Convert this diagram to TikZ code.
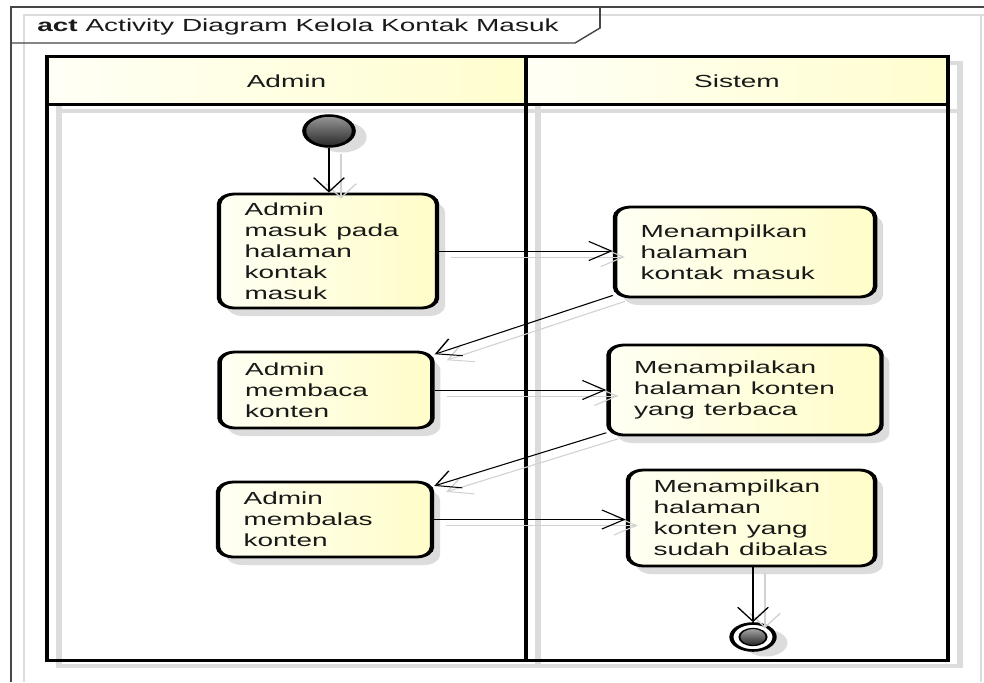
\documentclass[tikz,border=0pt]{standalone}
\usepackage{fontspec}
\setmainfont{Liberation Sans}
\usetikzlibrary{arrows.meta,shadows}

\definecolor{laneLight}{RGB}{255,255,246}
\definecolor{laneDark}{RGB}{255,254,206}
\definecolor{actLight}{RGB}{255,255,244}
\definecolor{actDark}{RGB}{255,253,200}
\definecolor{shadowGray}{RGB}{220,220,220}
\definecolor{frameGray}{RGB}{70,70,70}
\definecolor{textGray}{RGB}{25,25,25}

\tikzset{
  basefont/.style={font=\fontsize{17.5pt}{21pt}\selectfont, text=textGray},
  action/.style={basefont, draw=black, line width=2.8pt, rounded corners=10pt,
    left color=actLight, right color=actDark, align=left,
    inner xsep=16pt, inner ysep=0pt,
    general shadow={fill=shadowGray, shadow xshift=5pt, shadow yshift=-8pt}},
  startnode/.style={circle, draw=black, line width=2.5pt, minimum size=31pt,
    inner sep=0pt, top color=black!40, bottom color=black!85,
    general shadow={fill=shadowGray, shadow xshift=8pt, shadow yshift=-6pt}},
  endring/.style={circle, draw=black, line width=2.6pt, fill=white,
    minimum size=27pt, inner sep=0pt,
    general shadow={fill=shadowGray, shadow xshift=8pt, shadow yshift=-6pt}},
  endcore/.style={circle, draw=black, line width=1.2pt, minimum size=17pt,
    inner sep=0pt, top color=black!35, bottom color=black!85},
  flow/.style={draw=black, line width=1pt,
    -{Straight Barb[length=14pt,width=19pt]}},
  flowshadow/.style={draw=black!18, line width=1pt,
    -{Straight Barb[length=14pt,width=19pt]}},
  laneline/.style={draw=black, line width=3pt},
  laneshadow/.style={draw=shadowGray, line width=3.5pt},
  frameline/.style={draw=frameGray, line width=1.2pt},
  frameshadow/.style={draw=shadowGray, line width=1.2pt},
}

\begin{document}
\begin{tikzpicture}[x=1pt,y=-1pt]
\useasboundingbox (0,0) rectangle (984,682);
\fill[white] (0,0) rectangle (984,682);

% the whole diagram is drawn in pixel units and stretched horizontally
\begin{scope}[transform canvas={xscale=1.6}, x=0.625pt]

  % outer activity frame with its name tab
  \draw[frameshadow] (24,682) -- (24,15) -- (984,15);
  \draw[frameshadow] (981,15) -- (981,682);
  \draw[frameline] (11,682) -- (11,7) -- (984,7);
  \draw[frameline] (11,43) -- (575,43) -- (600,28) -- (600,7);
  \node[basefont, anchor=base west, inner sep=0pt] (title) at (37,32)
    {\textbf{act} Activity Diagram Kelola Kontak Masuk};

  % swimlanes
  \draw[laneshadow] (59,63) rectangle (538,666);
  \draw[laneshadow] (538,63) rectangle (960,666);
  \draw[laneshadow] (59,111) -- (960,111);
  \fill[left color=laneLight, right color=laneDark] (47,57) rectangle (526,105);
  \fill[left color=laneLight, right color=laneDark] (526,57) rectangle (948,105);
  \draw[laneline] (47,57) rectangle (948,660);
  \draw[laneline] (526,57) -- (526,660);
  \draw[laneline] (47,105) -- (948,105);
  \node[basefont] (hAdmin) at (286.5,81) {Admin};
  \node[basefont] (hSistem) at (737,81) {Sistem};

  % initial and final nodes
  \node[startnode] (start) at (329,131) {};
  \node[endring] (end) at (753,637) {};
  \node[endcore] (endc) at (end) {};

  % actions
  \node[action, text width=104.25pt, minimum height=114pt] (A1) at (328,251)
    {Admin\\masuk pada\\halaman\\kontak\\masuk};
  \node[action, text width=130.5pt, minimum height=90pt] (S1) at (745,252)
    {Menampilkan\\halaman\\kontak masuk};
  \node[action, text width=101.1pt, minimum height=76pt] (A2) at (326,390)
    {Admin\\membaca\\konten};
  \node[action, text width=138.6pt, minimum height=90pt] (S2) at (745,390)
    {Menampilakan\\halaman konten\\yang terbaca};
  \node[action, text width=101.75pt, minimum height=75pt] (A3) at (325,519.5)
    {Admin\\membalas\\konten};
  \node[action, text width=122.4pt, minimum height=96pt] (S3) at (751.5,518)
    {Menampilkan\\halaman\\konten yang\\sudah dibalas};

  % soft copies of the control flows
  \begin{scope}[transform canvas={shift={(12,6)}}]
    \draw[flowshadow] (start.south) -- (start.south |- A1.north);
    \draw[flowshadow] (A1.east) -- (A1.east -| S1.west);
    \draw[flowshadow] (S1) -- (A2);
    \draw[flowshadow] (A2.east) -- (A2.east -| S2.west);
    \draw[flowshadow] (S2) -- (A3);
    \draw[flowshadow] (A3.east) -- (A3.east -| S3.west);
    \draw[flowshadow] (S3.south -| end.north) -- (end.north);
  \end{scope}

  % control flows
  \draw[flow] (start.south) -- (start.south |- A1.north);
  \draw[flow] (A1.east) -- (A1.east -| S1.west);
  \draw[flow] (S1) -- (A2);
  \draw[flow] (A2.east) -- (A2.east -| S2.west);
  \draw[flow] (S2) -- (A3);
  \draw[flow] (A3.east) -- (A3.east -| S3.west);
  \draw[flow] (S3.south -| end.north) -- (end.north);
\end{scope}
\end{tikzpicture}
\end{document}
